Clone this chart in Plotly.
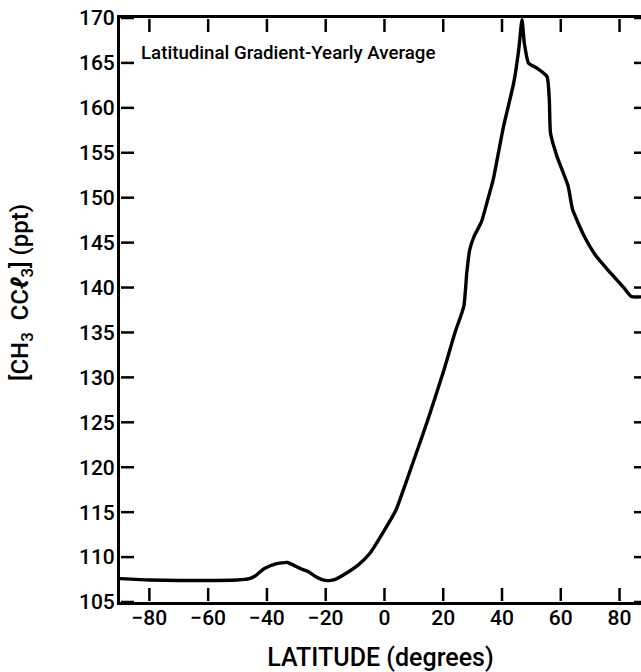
import plotly.graph_objects as go

# Zonally averaged CH3CCl3 mixing ratio (ppt) versus latitude, yearly average
latitude = [-90, -80, -70, -60, -50, -46, -44, -41, -37, -33, -31, -28.5, -26, -23.5,
            -20, -17, -13, -9, -5, 0, 4, 7, 10, 13, 15.5, 20.5, 24, 27, 28, 29, 30.5,
            33, 35, 37, 40.5, 44, 45.7, 46.8, 47.6, 49, 52, 55.3, 56.1, 56.5, 58.7,
            62.5, 64, 68, 72, 77, 81.5, 84, 90]
concentration = [107.6, 107.45, 107.4, 107.4, 107.45, 107.6, 107.9, 108.7, 109.25, 109.4,
                 109.1, 108.7, 108.4, 107.85, 107.4, 107.5, 108.2, 109.1, 110.4, 113.0,
                 115.3, 118.0, 120.8, 123.6, 126.0, 131.1, 135.0, 137.9, 141.6, 144.2,
                 145.7, 147.3, 149.6, 152.0, 157.9, 162.8, 166.5, 169.8, 167.2, 165.0,
                 164.4, 163.5, 160.9, 157.2, 154.6, 151.3, 148.7, 145.7, 143.5, 141.6,
                 139.95, 139.0, 139.0]

x_ticks = [-80, -60, -40, -20, 0, 20, 40, 60, 80]
y_ticks = list(range(105, 171, 5))

FONT = "Roboto"
W, H = 641, 672
MARGIN = dict(l=120, r=0, t=18, b=70)
X_RANGE = [-90, 87.3]
Y_RANGE = [105, 170]
TICK_LEN = 14       # px, inward ticks
RIGHT_TICK_LEN = 7  # px, visible part of the right-hand ticks
TICK_W = 2.5
INSET = 1           # px, tick start just inside the axis line

# pixel -> data conversion for tick lengths
px_per_x = (W - MARGIN["l"] - MARGIN["r"]) / (X_RANGE[1] - X_RANGE[0])
px_per_y = (H - MARGIN["t"] - MARGIN["b"]) / (Y_RANGE[1] - Y_RANGE[0])
dx = TICK_LEN / px_per_x
dx_in = INSET / px_per_x
dx_right = RIGHT_TICK_LEN / px_per_x
dy = TICK_LEN / px_per_y
dy_in = INSET / px_per_y

# each tick runs from its inner end towards the axis line
tick_x, tick_y = [], []
for v in x_ticks:
    tick_x += [v, v, None, v, v, None]
    tick_y += [Y_RANGE[0] + dy, Y_RANGE[0] + dy_in, None,
               Y_RANGE[1] - dy, Y_RANGE[1] - dy_in, None]
for v in y_ticks:
    tick_x += [X_RANGE[0] + dx, X_RANGE[0] + dx_in, None,
               X_RANGE[1] - dx_right, X_RANGE[1], None]
    tick_y += [v, v, None, v, v, None]

fig = go.Figure()
fig.add_trace(go.Scatter(
    x=tick_x, y=tick_y, mode="lines",
    line=dict(color="black", width=TICK_W, simplify=False),
    showlegend=False, hoverinfo="skip", connectgaps=False, cliponaxis=False,
))
fig.add_trace(go.Scatter(
    x=latitude, y=concentration, mode="lines",
    line=dict(color="black", width=3.4, shape="spline", smoothing=0.5),
    showlegend=False, hoverinfo="skip",
))

fig.update_layout(
    width=W, height=H,
    margin=MARGIN,
    paper_bgcolor="white", plot_bgcolor="white",
    xaxis=dict(
        range=X_RANGE, tickvals=x_ticks, mirror=True,
        showgrid=False, zeroline=False, showline=True, linecolor="black", linewidth=3,
        ticks="",
        ticklabelstandoff=-5,
        tickfont=dict(family=FONT, size=21, color="black", weight=500),
        title=dict(text="LATITUDE (degrees)", standoff=28,
                   font=dict(family=FONT, size=25, color="black", weight=500)),
        automargin=False,
    ),
    yaxis=dict(
        range=Y_RANGE, tickvals=y_ticks, mirror=False,
        showgrid=False, zeroline=False, showline=True, linecolor="black", linewidth=3,
        ticks="",
        ticklabelstandoff=-2,
        tickfont=dict(family=FONT, size=21, color="black", weight=500),
        automargin=False,
    ),
    annotations=[
        dict(
            text="Latitudinal Gradient-Yearly Average",
            xref="paper", yref="paper", x=0.036, y=0.94,
            xanchor="left", yanchor="middle", showarrow=False,
            font=dict(family=FONT, size=18.7, color="black", weight=500),
        ),
        # vertical axis title
        dict(
            text="[CH<sub>3</sub>  CC<b><i>ℓ</i></b><sub>3</sub>] (ppt)",
            xref="paper", yref="paper", x=-0.190, y=0.529,
            xanchor="center", yanchor="middle", textangle=-90, showarrow=False,
            font=dict(family=FONT, size=24, color="black", weight=500),
        ),
    ],
)

fig.write_html("out.html", config={"staticPlot": True})
